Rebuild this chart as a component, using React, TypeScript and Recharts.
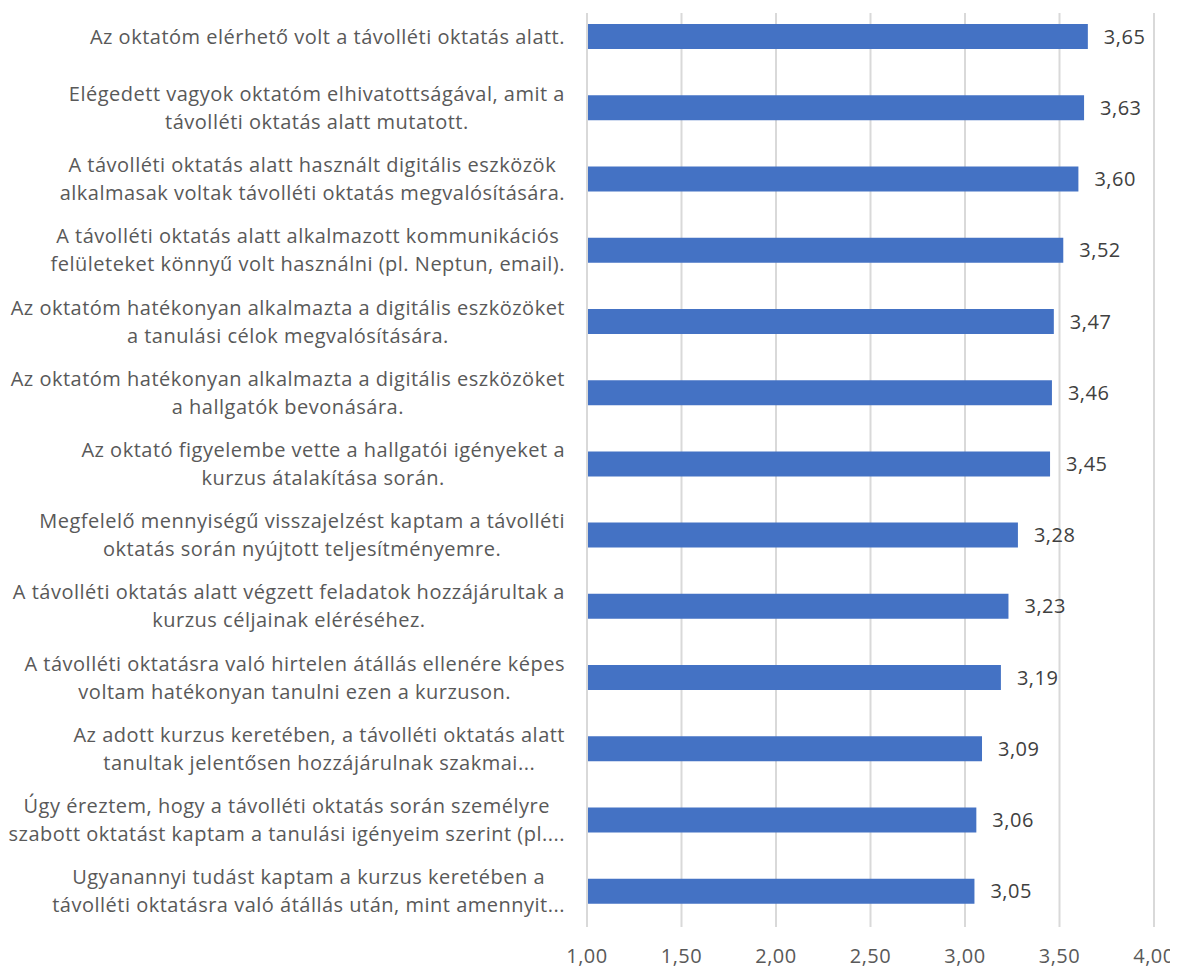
import { BarChart, Bar, XAxis, YAxis, CartesianGrid, LabelList } from "recharts";

const statements = [
  "Az oktatóm elérhető volt a távolléti oktatás alatt.",
  "Elégedett vagyok oktatóm elhivatottságával, amit a\ntávolléti oktatás alatt mutatott.",
  "A távolléti oktatás alatt használt digitális eszközök\nalkalmasak voltak távolléti oktatás megvalósítására.",
  "A távolléti oktatás alatt alkalmazott kommunikációs\nfelületeket könnyű volt használni (pl. Neptun, email).",
  "Az oktatóm hatékonyan alkalmazta a digitális eszközöket\na tanulási célok megvalósítására.",
  "Az oktatóm hatékonyan alkalmazta a digitális eszközöket\na hallgatók bevonására.",
  "Az oktató figyelembe vette a hallgatói igényeket a\nkurzus átalakítása során.",
  "Megfelelő mennyiségű visszajelzést kaptam a távolléti\noktatás során nyújtott teljesítményemre.",
  "A távolléti oktatás alatt végzett feladatok hozzájárultak a\nkurzus céljainak eléréséhez.",
  "A távolléti oktatásra való hirtelen átállás ellenére képes\nvoltam hatékonyan tanulni ezen a kurzuson.",
  "Az adott kurzus keretében, a távolléti oktatás alatt\ntanultak jelentősen hozzájárulnak szakmai...",
  "Úgy éreztem, hogy a távolléti oktatás során személyre\nszabott oktatást kaptam a tanulási igényeim szerint (pl....",
  "Ugyanannyi tudást kaptam a kurzus keretében a\ntávolléti oktatásra való átállás után, mint amennyit...",
];

const averages = [3.65, 3.63, 3.6, 3.52, 3.47, 3.46, 3.45, 3.28, 3.23, 3.19, 3.09, 3.06, 3.05];

const xTicks = [1, 1.5, 2, 2.5, 3, 3.5, 4];

const data = statements.map((s, i) => ({ statement: s, avg: averages[i] }));

const FONT = "'Open Sans', sans-serif";
const FONT_SIZE = 20;
const SPACING = 0.5;
const LINE_H = 28;
const LABEL_RIGHT = 557;

let ctx: CanvasRenderingContext2D | null = null;
const measure = (t: string) => {
  if (!ctx) ctx = document.createElement("canvas").getContext("2d");
  if (!ctx) return t.length * 9.5;
  ctx.font = `${FONT_SIZE}px 'Open Sans'`;
  return ctx.measureText(t).width + t.length * SPACING;
};

const fmt = (v: number) => v.toFixed(2).replace(".", ",");

const StatementTick = ({ y, payload }: any) => {
  const lines: string[] = String(payload.value).split("\n");
  const w = Math.max(...lines.map(measure));
  const cx = LABEL_RIGHT - w / 2;
  const y0 = y - ((lines.length - 1) * LINE_H) / 2;
  return (
    <g>
      {lines.map((l, i) => (
        <text
          key={i}
          x={cx}
          y={y0 + i * LINE_H}
          dy="0.35em"
          textAnchor="middle"
          fill="#595959"
          fontSize={FONT_SIZE}
          fontFamily={FONT}
          letterSpacing={SPACING}
        >
          {l}
        </text>
      ))}
    </g>
  );
};

export default function App() {
  return (
    <BarChart
      width={1170}
      height={960}
      data={data}
      layout="vertical"
      margin={{ top: 5, right: 24, left: 0, bottom: 0 }}
    >
      <CartesianGrid horizontal={false} stroke="#d9d9d9" strokeWidth={2} />
      <XAxis
        type="number"
        domain={[1, 4]}
        ticks={xTicks}
        tickFormatter={fmt}
        axisLine={false}
        tickLine={false}
        height={41}
        tickMargin={16}
        tick={{ fill: "#595959", fontSize: FONT_SIZE, fontFamily: FONT, letterSpacing: SPACING }}
      />
      <YAxis
        type="category"
        dataKey="statement"
        width={579}
        axisLine={{ stroke: "#d9d9d9", strokeWidth: 2 }}
        tickLine={false}
        interval={0}
        padding={{ top: -12, bottom: 0 }}
        tick={<StatementTick />}
      />
      <Bar dataKey="avg" fill="#4472C4" barSize={25} isAnimationActive={false}>
        <LabelList
          dataKey="avg"
          position="right"
          offset={16}
          formatter={(v: any) => fmt(Number(v))}
          fill="#404040"
          fontSize={FONT_SIZE}
          fontFamily={FONT}
          letterSpacing={SPACING}
        />
      </Bar>
    </BarChart>
  );
}
